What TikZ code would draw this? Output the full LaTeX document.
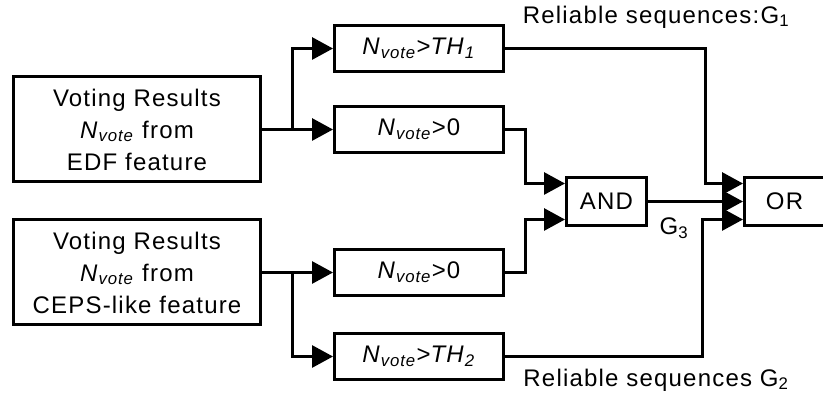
\documentclass[tikz,border=0pt]{standalone}
\usepackage{fontspec}
\setmainfont{Liberation Sans}[LetterSpace=5]
\usetikzlibrary{arrows.meta,positioning,calc}
\newcommand{\Nv}{\textit{N}\textsubscript{\textit{vote}}}

\begin{document}
\begin{tikzpicture}[x=1pt,y=-1pt,font=\fontsize{24}{32}\selectfont,
src/.style={draw,line width=3pt,minimum width=247pt,minimum height=105pt,align=center,inner sep=0pt},
cmp/.style={draw,line width=3pt,minimum width=169pt,minimum height=46pt,inner sep=0pt},
gate/.style={draw,line width=3pt,minimum width=80pt,minimum height=48pt,inner sep=0pt},
lab/.style={inner sep=0pt},
arr/.style={line width=3pt,-{Triangle[length=21pt,width=22pt]}}]
\useasboundingbox (0,0) rectangle (823,398);
% inputs
\node[src] (edf) at (137,129.5) {Voting Results\\\Nv{} from\\EDF feature};
\node[src,below=35pt of edf] (ceps) {Voting Results\\\Nv{} from\\CEPS-like feature};
% thresholds
\node[cmp] (gt1) at (419,129.5) {\Nv>0};
\node[cmp,above=32pt of gt1] (th1) {\Nv>\textit{TH}\textsubscript{\textit{1}}};
\node[cmp] (gt2) at (419,272.5) {\Nv>0};
\node[cmp,below=35pt of gt2] (th2) {\Nv>\textit{TH}\textsubscript{\textit{2}}};
% gates
\node[gate] (and) at (606.5,201.5) {AND};
\node[gate,right=95pt of and] (or) {OR};
\coordinate (j1) at ($(edf.east)!.43!(gt1.west)$);
\coordinate (j2) at ($(ceps.east)!.43!(gt2.west)$);
\draw[arr] (edf.east) -- (gt1.west);
\draw[arr] (j1) |- (th1.west);
\draw[arr] (ceps.east) -- (gt2.west);
\draw[arr] (j2) |- (th2.west);
\draw[arr] (gt1.east) -- ++(20,0) |- ([yshift=18pt]and.west);
\draw[arr] (gt2.east) -- ++(20,0) |- ([yshift=-18pt]and.west);
\draw[arr] (and) -- (or);
\draw[arr] (th1.east) -- ++(200,0) |- ([yshift=18pt]or.west);
\draw[arr] (th2.east) -- ++(197,0) |- ([yshift=-18pt]or.west);
% labels
\node[lab] (g1) at (656,17) {Reliable sequences:G\textsubscript{1}};
\node[lab] (g2) at (656,380) {Reliable sequences G\textsubscript{2}};
\node[lab] (g3) at (674,228) {G\textsubscript{3}};
\end{tikzpicture}
\end{document}
